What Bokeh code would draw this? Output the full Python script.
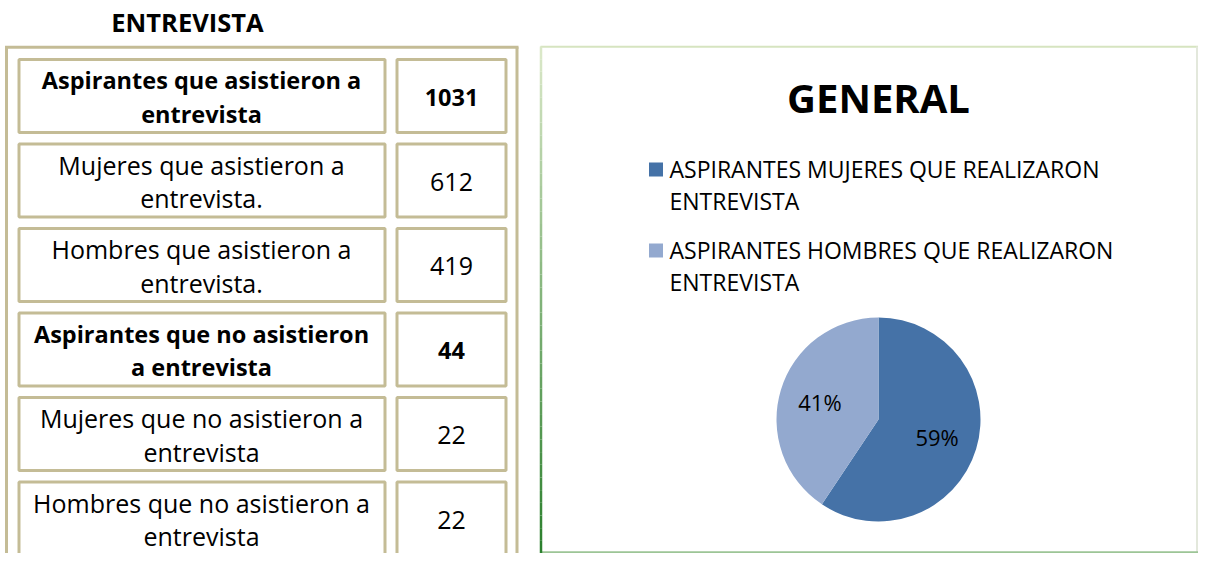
import math
from bokeh.plotting import figure
from bokeh.models import Range1d
from bokeh.core.properties import value
from bokeh.embed import file_html
from bokeh.resources import INLINE

# ---------------- data ----------------
table_title = "ENTREVISTA"
row_labels = [
    "Aspirantes que asistieron a\nentrevista",
    "Mujeres que asistieron a\nentrevista.",
    "Hombres que asistieron a\nentrevista.",
    "Aspirantes que no asistieron\na entrevista",
    "Mujeres que no asistieron a\nentrevista",
    "Hombres que no asistieron a\nentrevista",
]
row_values = [1031, 612, 419, 44, 22, 22]
row_bold = [True, False, False, True, False, False]

chart_title = "GENERAL"
pie_labels = [
    "ASPIRANTES MUJERES QUE REALIZARON\nENTREVISTA",
    "ASPIRANTES HOMBRES QUE REALIZARON\nENTREVISTA",
]
pie_values = [612, 419]
pie_colors = ["#4572A7", "#93A9CF"]

# ---------------- styles ----------------
FONT = value("Open Sans")
TAN = "#c4bc96"
W, H = 1198, 553


def Y(v):
    # reference pixel row -> data y (y grows upward)
    return 569 - v


p = figure(width=W, height=H, output_backend="svg", toolbar_location=None,
           x_range=Range1d(0, W), y_range=Range1d(Y(H), Y(0)),
           min_border=0, background_fill_color="white", border_fill_color="white")
p.axis.visible = False
p.grid.visible = False
p.outline_line_color = None

# ---------------- table ----------------
p.text(x=[187], y=[Y(21)], text=[table_title], text_font=FONT, text_font_size="25.5px",
       text_font_style="bold", text_align="center", text_baseline="middle", text_color="black")

# outer frame
p.segment(x0=[6, 4.5, 516.5], y0=[Y(46.8), Y(46.8), Y(46.8)],
          x1=[6, 518, 516.5], y1=[Y(569), Y(46.8), Y(569)],
          line_color=TAN, line_width=3)

pitch, cell_h = 84.5, 73.0
tops, bots, centers = [], [], []
for i in range(len(row_values)):
    t = 59 + pitch * i
    b = t + cell_h
    tops.append(Y(t))
    bots.append(Y(b))
    centers.append(t + cell_h / 2 + 1)

n = len(row_values)
p.quad(left=[18.5] * n, right=[384.5] * n, top=tops, bottom=bots,
       fill_color=None, line_color=TAN, line_width=3)
p.quad(left=[396.5] * n, right=[505.5] * n, top=tops, bottom=bots,
       fill_color=None, line_color=TAN, line_width=3)

line_gap = 33.5
for style, size in (("bold", "23.5px"), ("normal", "25px")):
    xs, ys, ts = [], [], []
    vx, vy, vt = [], [], []
    for lab, val, bold, c in zip(row_labels, row_values, row_bold, centers):
        if (style == "bold") != bold:
            continue
        lines = lab.split("\n")
        k = len(lines)
        for j, ln in enumerate(lines):
            xs.append(201)
            ys.append(Y(c + (j - (k - 1) / 2) * line_gap))
            ts.append(ln)
        vx.append(451)
        vy.append(Y(c))
        vt.append(str(val))
    p.text(x=xs, y=ys, text=ts, text_font=FONT, text_font_size=size,
           text_font_style=style, text_align="center", text_baseline="middle",
           text_color="black")
    p.text(x=vx, y=vy, text=vt, text_font=FONT, text_font_size=size,
           text_font_style=style, text_align="center", text_baseline="middle",
           text_color="black")

# ---------------- chart frame ----------------
p.segment(x0=[540], y0=[Y(46.3)], x1=[1198], y1=[Y(46.3)], line_color="#d6e4c0", line_width=2)
p.segment(x0=[1196.5], y0=[Y(46)], x1=[1196.5], y1=[Y(553)], line_color="#e3e8dc", line_width=2)
p.segment(x0=[540], y0=[Y(551.8)], x1=[1198], y1=[Y(551.8)], line_color="#9cc596", line_width=2)
# left border: gradient light -> dark green
c0 = (0xda, 0xe8, 0xc8)
c1 = (0x2c, 0x80, 0x2e)
N = 40
y_start, y_end = 46, 553
gx0, gy0, gx1, gy1, gcol = [], [], [], [], []
for i in range(N):
    f = i / (N - 1)
    a = y_start + (y_end - y_start) * i / N
    b = y_start + (y_end - y_start) * (i + 1) / N
    col = "#%02x%02x%02x" % tuple(int(c0[k] + (c1[k] - c0[k]) * f) for k in range(3))
    gx0.append(540.5); gx1.append(540.5); gy0.append(Y(a)); gy1.append(Y(b)); gcol.append(col)
p.segment(x0=gx0, y0=gy0, x1=gx1, y1=gy1, line_color=gcol, line_width=2.5)

p.text(x=[878], y=[Y(96.5)], text=[chart_title], text_font=FONT, text_font_size="40px",
       text_font_style="bold", text_align="center", text_baseline="middle", text_color="black")

# ---------------- legend ----------------
leg_y = [169, 250]
p.rect(x=[655.5] * 2, y=[Y(v) for v in leg_y], width=14, height=14,
       fill_color=pie_colors, line_color=None)
lx, ly, lt = [], [], []
for lab, yy in zip(pie_labels, leg_y):
    for j, ln in enumerate(lab.split("\n")):
        lx.append(669)
        ly.append(Y(yy - 0.5 + j * 31.5))
        lt.append(ln)
p.text(x=lx, y=ly, text=lt, text_font=FONT, text_font_size="23px",
       text_align="left", text_baseline="middle", text_color="black")

# ---------------- pie ----------------
cx, cy, R = 878, 419, 102
total = sum(pie_values)
starts, ends, mids = [], [], []
ang = 90.0
# first slice goes clockwise from 12 o'clock, remaining after
for v in pie_values:
    sweep = v / total * 360.0
    a_end = ang
    a_start = ang - sweep
    starts.append(a_start)
    ends.append(a_end)
    mids.append((a_start + a_end) / 2)
    ang = a_start
p.wedge(x=[cx] * len(pie_values), y=[Y(cy)] * len(pie_values), radius=R,
        start_angle=starts, end_angle=ends, start_angle_units="deg", end_angle_units="deg",
        direction="anticlock", fill_color=pie_colors, line_color=None)

px, py, pt = [], [], []
for v, m in zip(pie_values, mids):
    r = 0.6 * R
    px.append(cx + r * math.cos(math.radians(m)))
    py.append(Y(cy) + r * math.sin(math.radians(m)))
    pt.append("%d%%" % round(v / total * 100))
p.text(x=px, y=py, text=pt, text_font=FONT, text_font_size="22px",
       text_align="center", text_baseline="middle", text_color="black")

open("out.html", "w").write(file_html(p, INLINE))
